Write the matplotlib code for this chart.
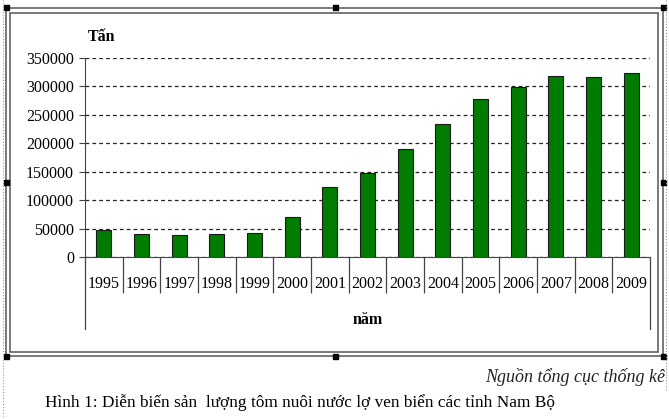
"""Shrimp production chart (Nam Bo), recreated with matplotlib"""

import numpy as np
import matplotlib.pyplot as plt
from matplotlib.patches import Rectangle
from matplotlib.lines import Line2D

# data
years = ['1995', '1996', '1997', '1998', '1999', '2000', '2001', '2002',
         '2003', '2004', '2005', '2006', '2007', '2008', '2009']
tons = [47000, 40500, 38700, 40500, 42500, 70500, 123000, 147000,
        190500, 233500, 278500, 298500, 319000, 316000, 323000]
yticks = [0, 50000, 100000, 150000, 200000, 250000, 300000, 350000]

W, H = 669, 419
plt.rcParams['font.family'] = ['Liberation Serif', 'DejaVu Serif']

fig = plt.figure(figsize=(W/100, H/100), dpi=100)

def fx(px):
    return px/W

def fy(py):
    return 1 - py/H

#axes placed in pixel terms
ax = fig.add_axes([fx(85), fy(257), fx(650)-fx(85), fy(58)-fy(257)])

x = np.arange(len(years))
ax.bar(x, tons, width=0.4, color='#007d00', edgecolor='#1a1a1a',
       linewidth=0.8, zorder=3)

ax.set_xlim(-0.5, len(years)-0.5)
ax.set_ylim(0, 350000)
ax.set_yticks(yticks)
ax.set_yticklabels([str(v) for v in yticks], fontsize=11.5)
ax.yaxis.grid(True, linestyle=(0, (3, 2.5)), color='#222222', linewidth=0.9)
ax.set_axisbelow(True)

for side in ['top', 'right']:
    ax.spines[side].set_visible(False)
ax.spines['left'].set_color('#444444')
ax.spines['bottom'].set_color('#444444')
ax.tick_params(axis='y', length=4, color='#444444', pad=4)

#year labels sit between divider ticks
ax.set_xticks(x)
ax.set_xticklabels(years, fontsize=11.5)
ax.tick_params(axis='x', length=0, pad=14)
ax.set_xticks(np.arange(0.5, len(years)-1, 1.0), minor=True)
ax.tick_params(axis='x', which='minor', length=26, color='#444444', width=0.9)

#long outer lines of the category axis
for xa in [0, 1]:
    ax.add_line(Line2D([xa, xa], [0, -72/199], transform=ax.transAxes,
                       color='#444444', linewidth=0.9, clip_on=False))

fig.text(fx(102), fy(37), 'Tấn', fontsize=11.5, fontweight='bold',
         ha='center', va='center')
fig.text(fx(368), fy(320), 'năm', fontsize=11.5, fontweight='bold',
         ha='center', va='center')

#double frame with handles, like the Word object border
for x0, y0, x1, y1 in [(6, 8, 663, 356), (10, 13, 658, 352)]:
    fig.add_artist(Rectangle((fx(x0), fy(y1)), fx(x1)-fx(x0), fy(y0)-fy(y1),
                             transform=fig.transFigure, fill=False,
                             edgecolor='#555555', linewidth=1.1))
for hx, hy in [(6, 8), (335, 8), (663, 8), (6, 183), (663, 183),
               (6, 356), (335, 356), (663, 356)]:
    fig.add_artist(Rectangle((fx(hx-2.5), fy(hy+2.5)), fx(5), 5/H,
                             transform=fig.transFigure, color='black'))

#dotted page margins
fig.add_artist(Line2D([fx(3), fx(3)], [fy(0), fy(419)], color='#999999',
                      linewidth=0.8, linestyle=':'))
fig.add_artist(Line2D([fx(666), fx(666)], [fy(0), fy(390)], color='#999999',
                      linewidth=0.8, linestyle=':'))

fig.text(fx(665), fy(377), 'Nguồn tổng cục thống kê', fontsize=13,
         style='italic', ha='right', va='center', color='#222222')
fig.text(fx(45), fy(403), 'Hình 1: Diễn biến sản  lượng tôm nuôi nước lợ ven biển các tỉnh Nam Bộ',
         fontsize=12.4, ha='left', va='center')

plt.savefig('out.png', dpi=100)
